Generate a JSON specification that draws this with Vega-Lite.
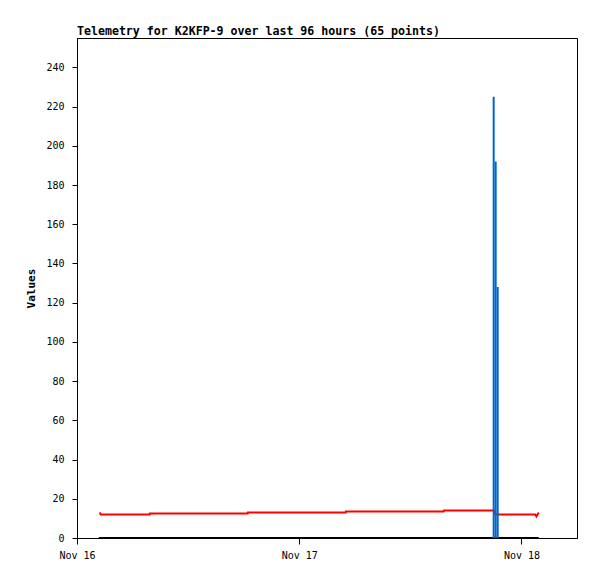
{
  "$schema": "https://vega.github.io/schema/vega-lite/v6.json",
  "width": 500,
  "height": 500,
  "autosize": {"type": "none"},
  "padding": {"left": 77, "top": 38, "right": 20, "bottom": 41},
  "background": "white",
  "title": {
    "text": "Telemetry for K2KFP-9 over last 96 hours (65 points)",
    "anchor": "start",
    "frame": "group",
    "font": "DejaVu Sans Mono",
    "fontSize": 11.6,
    "fontWeight": "bold",
    "color": "black",
    "offset": 0
  },
  "config": {
    "view": {"stroke": "black", "strokeWidth": 1},
    "axis": {
      "labelFont": "DejaVu Sans Mono",
      "labelFontSize": 10,
      "labelColor": "black",
      "domainColor": "black",
      "tickColor": "black",
      "grid": false,
      "titleFont": "DejaVu Sans Mono",
      "titleFontWeight": "bold",
      "titleFontSize": 11,
      "titleColor": "black"
    }
  },
  "datasets": {
    "lines": [
      {"t": "2024-11-16T02:21:00Z", "ch": "zero", "v": 0},
      {"t": "2024-11-18T01:52:00Z", "ch": "zero", "v": 0},
      {"t": "2024-11-16T02:27:00Z", "ch": "red", "v": 13},
      {"t": "2024-11-16T02:34:00Z", "ch": "red", "v": 12},
      {"t": "2024-11-16T07:51:00Z", "ch": "red", "v": 12},
      {"t": "2024-11-16T07:52:00Z", "ch": "red", "v": 12.5},
      {"t": "2024-11-16T18:26:00Z", "ch": "red", "v": 12.5},
      {"t": "2024-11-16T18:27:00Z", "ch": "red", "v": 13},
      {"t": "2024-11-17T05:01:00Z", "ch": "red", "v": 13},
      {"t": "2024-11-17T05:02:00Z", "ch": "red", "v": 13.5},
      {"t": "2024-11-17T15:36:00Z", "ch": "red", "v": 13.5},
      {"t": "2024-11-17T15:37:00Z", "ch": "red", "v": 14},
      {"t": "2024-11-17T21:00:00Z", "ch": "red", "v": 14},
      {"t": "2024-11-17T21:13:00Z", "ch": "red", "v": 12},
      {"t": "2024-11-18T01:30:00Z", "ch": "red", "v": 12},
      {"t": "2024-11-18T01:37:00Z", "ch": "red", "v": 11},
      {"t": "2024-11-18T01:52:00Z", "ch": "red", "v": 13}
    ],
    "bars": [
      {"t": "2024-11-17T21:00:00Z", "v": 225},
      {"t": "2024-11-17T21:13:00Z", "v": 192},
      {"t": "2024-11-17T21:26:00Z", "v": 128}
    ]
  },
  "encoding": {
    "x": {
      "field": "t",
      "type": "temporal",
      "scale": {
        "type": "utc",
        "padding": 0,
        "nice": false,
        "domain": [
          {"year": 2024, "month": 11, "date": 16, "hours": 0, "utc": true},
          {"year": 2024, "month": 11, "date": 18, "hours": 6, "utc": true}
        ]
      },
      "axis": {
        "title": null,
        "format": "%b %d",
        "tickCount": {"interval": "day", "step": 1},
        "labelFlush": false,
        "tickSize": 6,
        "labelPadding": 6
      }
    },
    "y": {
      "field": "v",
      "type": "quantitative",
      "scale": {"domain": [0, 255], "nice": false, "zero": true},
      "axis": {
        "title": "Values",
        "values": [0, 20, 40, 60, 80, 100, 120, 140, 160, 180, 200, 220, 240],
        "tickSize": 5,
        "labelPadding": 8,
        "titlePadding": 9
      }
    }
  },
  "layer": [
    {
      "data": {"name": "lines"},
      "transform": [{"filter": "datum.ch === 'zero'"}],
      "mark": {"type": "line", "color": "black", "strokeWidth": 2}
    },
    {
      "data": {"name": "lines"},
      "transform": [{"filter": "datum.ch === 'red'"}],
      "mark": {"type": "line", "color": "#ff0000", "strokeWidth": 2}
    },
    {
      "data": {"name": "bars"},
      "mark": {"type": "bar", "color": "#0066cc", "size": 2, "orient": "vertical"}
    }
  ]
}
